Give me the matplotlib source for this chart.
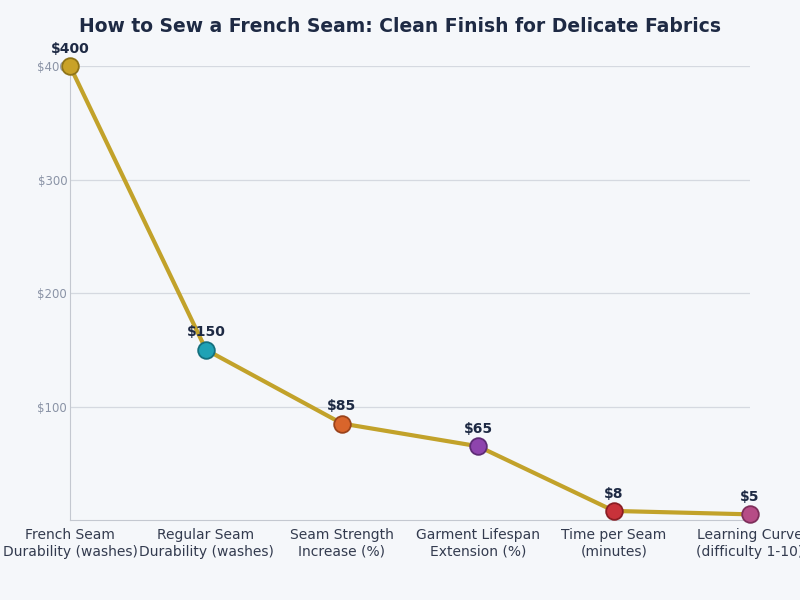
import matplotlib

matplotlib.use("Agg")
import matplotlib.pyplot as plt

categories = [
    "French Seam\nDurability (washes)",
    "Regular Seam\nDurability (washes)",
    "Seam Strength\nIncrease (%)",
    "Garment Lifespan\nExtension (%)",
    "Time per Seam\n(minutes)",
    "Learning Curve\n(difficulty 1-10)",
]
values = [400, 150, 85, 65, 8, 5]
point_colors = ["#C9A227", "#1FA2B5", "#D9652B", "#8E44AD", "#C8323A", "#B64C86"]
edge_colors = ["#8F7418", "#15707E", "#9A431B", "#5E2C75", "#8A1E24", "#7E2F5B"]
y_ticks = [100, 200, 300, 400]

BG = "#F5F7FA"
LINE = "#C2A22A"
TEXT = "#1E2A44"

fig = plt.figure(figsize=(8, 6), dpi=100)
fig.patch.set_facecolor(BG)
ax = fig.add_axes([0.0875, 0.1333, 0.85, 0.7567])
ax.set_facecolor(BG)

x = list(range(len(values)))
ax.plot(x, values, color=LINE, linewidth=3, zorder=2)
for xi, v, c, ec in zip(x, values, point_colors, edge_colors):
    ax.plot(xi, v, "o", markersize=12, markerfacecolor=c, markeredgecolor=ec,
            markeredgewidth=1.3, zorder=3, clip_on=False)
    ax.annotate(f"${v}", xy=(xi, v), xytext=(0, 7.5), textcoords="offset points",
                ha="center", va="bottom", fontsize=10, fontweight="bold", color=TEXT)

ax.set_xlim(0, len(values) - 1)
ax.set_ylim(0, 400)
ax.set_xticks(x)
ax.set_xticklabels(categories, fontsize=10, color="#333B4F")
ax.set_yticks(y_ticks)
ax.set_yticklabels([f"${t}" for t in y_ticks], fontsize=8.5, color="#8A93A6")
ax.tick_params(length=0, pad=2)
ax.tick_params(axis="x", pad=6)

ax.grid(axis="y", color="#D5D9E0", linewidth=0.9)
ax.set_axisbelow(True)
ax.spines["top"].set_visible(False)
ax.spines["right"].set_visible(False)
ax.spines["left"].set_color("#C4C8D0")
ax.spines["bottom"].set_color("#C4C8D0")

fig.text(0.5, 0.955, "How to Sew a French Seam: Clean Finish for Delicate Fabrics",
         ha="center", va="center", fontsize=13.5, fontweight="bold", color=TEXT)

fig.savefig("out.png", dpi=100, facecolor=BG)
